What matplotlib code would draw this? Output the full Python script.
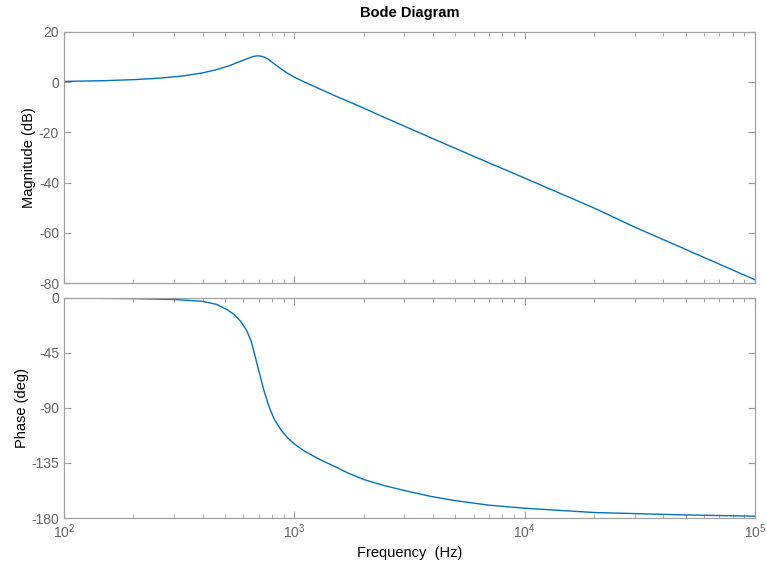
import numpy as np
import matplotlib
matplotlib.use('Agg')
import matplotlib.pyplot as plt
from matplotlib.ticker import LogLocator, NullFormatter

plt.rcParams['font.family'] = ['Liberation Sans', 'DejaVu Sans']
plt.rcParams['axes.unicode_minus'] = False

# magnitude curve (Hz, dB)
mag_freq = [100, 150, 200, 260, 330, 400, 460, 520, 580, 630, 660, 690, 715,
            745, 775, 810, 870, 930, 1000, 1070, 1180, 1270, 1500, 1770, 2000,
            2400, 2900, 4000, 6000, 10000, 20000, 30000, 50000, 100000]
mag_db = [0.3, 0.6, 1.0, 1.6, 2.5, 3.7, 5.0, 6.5, 8.2, 9.5, 10.2, 10.5, 10.4,
          9.9, 9.0, 7.6, 5.5, 3.7, 2.0, 0.7, -1.1, -2.4, -5.4, -8.2, -10.3,
          -13.6, -16.9, -22.5, -29.5, -38.2, -50.1, -57.7, -66.6, -78.7]

# phase curve (Hz, deg)
ph_freq = [100, 200, 300, 400, 460, 513, 550, 586, 620, 648, 670, 693, 720,
           741, 780, 820, 875, 940, 1000, 1100, 1200, 1300, 1445, 1700, 2000,
           2400, 3000, 3900, 5000, 7000, 10000, 20000, 50000, 100000]
ph_deg = [-0.3, -0.8, -1.5, -3.0, -5.5, -10, -14, -19.5, -26.5, -35, -45, -56,
          -68, -77, -90, -99.5, -108, -115, -119.5, -125, -129, -132.5, -136.5,
          -143, -148.5, -153, -157.5, -162.3, -165.8, -169.5, -172, -175.5,
          -177.5, -178.5]

mag_ticks = [20, 0, -20, -40, -60, -80]
ph_ticks = [0, -45, -90, -135, -180]

line_col = '#0072BD'
axis_col = '#a0a0a0'
label_col = '#666666'

fig = plt.figure(figsize=(7.67, 5.7), dpi=100)
ax1 = fig.add_axes([0.0834, 0.5035, 0.9009, 0.4404])
ax2 = fig.add_axes([0.0834, 0.0912, 0.9009, 0.3866])

ax1.plot(mag_freq, mag_db, color=line_col, lw=1.0)
ax2.plot(ph_freq, ph_deg, color=line_col, lw=1.0)

for ax in (ax1, ax2):
    ax.set_xscale('log')
    ax.set_xlim(1e2, 1e5)
    ax.xaxis.set_major_locator(LogLocator(base=10, numticks=10))
    ax.xaxis.set_minor_locator(LogLocator(base=10, subs=np.arange(2, 10), numticks=20))
    ax.xaxis.set_minor_formatter(NullFormatter())
    ax.tick_params(which='both', direction='in', top=True, right=True,
                   color=axis_col, labelcolor=label_col, labelsize=10)
    ax.tick_params(which='major', length=5, width=0.8)
    ax.tick_params(which='minor', length=3, width=0.6)
    for s in ax.spines.values():
        s.set_color(axis_col)
        s.set_linewidth(0.9)

ax1.set_ylim(-80, 20)
ax1.set_yticks(mag_ticks)
ax1.tick_params(labelbottom=False)
ax1.set_ylabel('Magnitude (dB)', fontsize=10.5, color='black', labelpad=2)
ax1.set_title('Bode Diagram', fontsize=10.5, fontweight='bold', pad=11)

ax2.set_ylim(-180, 0)
ax2.set_yticks(ph_ticks)
ax2.set_ylabel('Phase (deg)', fontsize=10.5, color='black', labelpad=2)
ax2.set_xlabel('Frequency  (Hz)', fontsize=10.5, color='black', labelpad=3)

fig.savefig('out.png', dpi=100)
